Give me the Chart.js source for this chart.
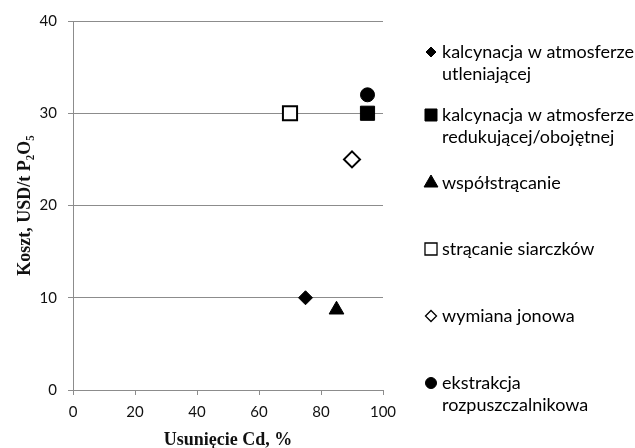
<!DOCTYPE html>
<html>
<head>
<meta charset="utf-8">
<script src="https://cdn.jsdelivr.net/npm/chart.js@4.4.1/dist/chart.umd.min.js"></script>
<style>
  body { margin: 0; background: #fff; }
</style>
</head>
<body>
<canvas id="chart" width="635" height="448"></canvas>
<script>
// data
const methods = [
  'kalcynacja w atmosferze\nutleniającej',
  'kalcynacja w atmosferze\nredukującej/obojętnej',
  'współstrącanie',
  'strącanie siarczków',
  'wymiana jonowa',
  'ekstrakcja\nrozpuszczalnikowa'
];
const cdRemoval = [75, 95, 85, 70, 90, 95];   // %
const cost = [10, 30, 8.7, 30, 25, 32];       // USD/t P2O5
const xTicks = [0, 20, 40, 60, 80, 100];
const yTicks = [0, 10, 20, 30, 40];

const markers = [
  { style: 'rectRot', fill: '#000', r: 7, lr: 5 },
  { style: 'rect', fill: '#000', r: 10, lr: 8.5 },
  { style: 'triangle', fill: '#000', r: 8.5, lr: 8 },
  { style: 'rect', fill: '#fff', r: 10, lr: 8.5 },
  { style: 'rectRot', fill: '#fff', r: 8, lr: 5.5 },
  { style: 'circle', fill: '#000', r: 7, lr: 5.5 }
];

const legendY = [52, 115, 183, 249, 316, 383];

const gridColor = '#8c8c8c';
const tickFont = { family: 'Lato', size: 15 };
const titleFont = { family: 'Liberation Serif', size: 18, weight: 'bold', lineHeight: 0.9 };

const datasets = methods.map((m, i) => ({
  label: m,
  data: [{ x: cdRemoval[i], y: cost[i] }],
  pointStyle: markers[i].style,
  pointRadius: markers[i].r,
  pointHoverRadius: markers[i].r,
  backgroundColor: markers[i].fill,
  borderColor: '#000',
  pointBorderWidth: markers[i].fill === '#fff' ? 2 : 1
}));

// legend on the right, with wrapped labels like the original
const sideLegend = {
  id: 'sideLegend',
  afterDraw(chart) {
    const ctx = chart.ctx;
    ctx.save();
    ctx.font = '18px Lato';
    ctx.fillStyle = '#000';
    ctx.textBaseline = 'middle';
    chart.data.datasets.forEach((ds, i) => {
      const y = legendY[i];
      const mk = markers[i];
      ctx.save();
      ctx.fillStyle = mk.fill;
      ctx.strokeStyle = '#000';
      ctx.lineWidth = mk.fill === '#fff' ? 1.3 : 1;
      Chart.helpers.drawPoint(ctx, { pointStyle: mk.style, radius: mk.lr, rotation: 0, borderWidth: ctx.lineWidth }, 431, y);
      ctx.restore();
      ds.label.split('\n').forEach((line, j) => {
        ctx.fillText(line, 442, y + j * 22);
      });
    });
    ctx.restore();
  }
};

new Chart(document.getElementById('chart'), {
  type: 'scatter',
  data: { datasets: datasets },
  options: {
    responsive: false,
    animation: false,
    layout: { padding: { top: 21, right: 252, left: 0, bottom: 0 } },
    plugins: {
      legend: { display: false },
      tooltip: { enabled: false }
    },
    scales: {
      x: {
        min: 0,
        max: 100,
        afterFit: s => { s.height = 58; },
        afterBuildTicks: s => { s.ticks = xTicks.map(v => ({ value: v })); },
        border: { color: gridColor, width: 1 },
        grid: { drawOnChartArea: false, drawTicks: true, tickLength: 5, color: gridColor },
        ticks: { font: tickFont, color: '#111', padding: 8, maxRotation: 0 },
        title: { display: true, text: 'Usunięcie Cd, %', font: titleFont, color: '#111', padding: { top: 0, bottom: 0 } }
      },
      y: {
        min: 0,
        max: 40,
        afterFit: s => { s.width = 73; },
        afterBuildTicks: s => { s.ticks = yTicks.map(v => ({ value: v })); },
        border: { color: gridColor, width: 1 },
        grid: { drawTicks: true, tickLength: 5, color: gridColor },
        ticks: { font: tickFont, color: '#111', padding: 11 },
        title: { display: true, text: 'Koszt, USD/t P₂O₅', font: titleFont, color: '#111', padding: { top: 17, bottom: 0 } }
      }
    }
  },
  plugins: [sideLegend]
});
</script>
</body>
</html>
